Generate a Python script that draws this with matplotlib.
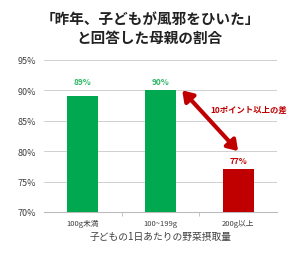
import matplotlib
matplotlib.use("Agg")
import matplotlib.pyplot as plt

plt.rcParams["font.family"] = ["Noto Sans CJK JP", "DejaVu Sans"]

categories = ["100g未満", "100~199g", "200g以上"]
values = [89, 90, 77]
bar_colors = ["#00A84F", "#00A84F", "#C00000"]
label_colors = ["#2DB766", "#2DB766", "#C00000"]
yticks = [70, 75, 80, 85, 90, 95]

fig = plt.figure(figsize=(3.0, 2.55), dpi=100)
ax = fig.add_axes([0.147, 0.165, 0.776, 0.596])

x = range(len(categories))
ax.bar(x, [v - 70 for v in values], bottom=70, width=0.4, color=bar_colors, zorder=3)

for i, v in enumerate(values):
    ax.text(i, max(v, values[1]) + 1.4 if i < 2 else v + 1.4, f"{v}%",
            ha="center", va="center", fontsize=6,
            fontweight="bold", color=label_colors[i], zorder=4)

ax.set_xlim(-0.5, 2.5)
ax.set_ylim(70, 95)
ax.set_yticks(yticks)
ax.set_yticklabels([f"{t}%" for t in yticks], fontsize=6.5, color="#404040")
ax.set_xticks(list(x))
ax.set_xticklabels(categories, fontsize=5.5, color="#404040")
ax.tick_params(axis="y", length=0, pad=6)
ax.tick_params(axis="x", length=0, pad=5)
ax.set_xticks([0.5, 1.5], minor=True)
ax.tick_params(axis="x", which="minor", length=3, color="#BBBBBB")
ax.grid(axis="y", color="#D0D0D0", linewidth=0.7, zorder=0)
for s in ["top", "right", "left"]:
    ax.spines[s].set_visible(False)
ax.spines["bottom"].set_color("#BBBBBB")

# difference arrow
ax.annotate("", xy=(2.0, values[2] + 3.0), xytext=(1.28, values[1]),
            arrowprops=dict(arrowstyle="<|-|>,head_length=0.6,head_width=0.4",
                            lw=3, color="#C00000", shrinkA=0, shrinkB=0), zorder=5)
ax.text(2.14, 86.8, "10ポイント以上の差", ha="center", va="center", fontsize=6,
        fontweight="bold", color="#C00000")

ax.set_xlabel("子どもの1日あたりの野菜摂取量", fontsize=7, color="#404040", labelpad=3)

fig.text(0.5, 0.925, "「昨年、子どもが風邪をひいた」", ha="center", va="center",
         fontsize=10.5, fontweight="bold", color="#222222")
fig.text(0.5, 0.85, "と回答した母親の割合", ha="center", va="center",
         fontsize=10.5, fontweight="bold", color="#222222")

fig.savefig("out.png", dpi=100, facecolor="white")
